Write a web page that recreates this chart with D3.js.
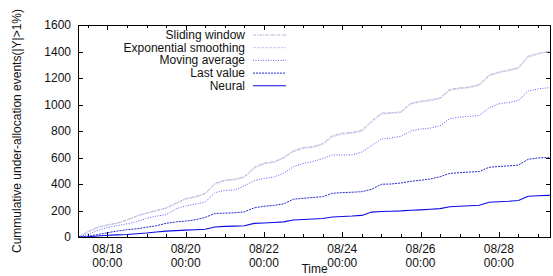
<!DOCTYPE html>
<html>
<head>
<meta charset="utf-8">
<script src="https://cdn.jsdelivr.net/npm/d3@7"></script>
<style>
  body { margin: 0; background: #fff; }
  text { font-family: "Liberation Sans", Arial, Helvetica, sans-serif; font-size: 12px; fill: #111; }
</style>
</head>
<body>
<div id="chart"></div>
<script>
// sample times, every 6 hours
const times = [
  "08/17 06:00", "08/17 12:00", "08/17 18:00",
  "08/18 00:00", "08/18 06:00", "08/18 12:00", "08/18 18:00",
  "08/19 00:00", "08/19 06:00", "08/19 12:00", "08/19 18:00",
  "08/20 00:00", "08/20 06:00", "08/20 12:00", "08/20 18:00",
  "08/21 00:00", "08/21 06:00", "08/21 12:00", "08/21 18:00",
  "08/22 00:00", "08/22 06:00", "08/22 12:00", "08/22 18:00",
  "08/23 00:00", "08/23 06:00", "08/23 12:00", "08/23 18:00",
  "08/24 00:00", "08/24 06:00", "08/24 12:00", "08/24 18:00",
  "08/25 00:00", "08/25 06:00", "08/25 12:00", "08/25 18:00",
  "08/26 00:00", "08/26 06:00", "08/26 12:00", "08/26 18:00",
  "08/27 00:00", "08/27 06:00", "08/27 12:00", "08/27 18:00",
  "08/28 00:00", "08/28 06:00", "08/28 12:00", "08/28 18:00",
  "08/29 00:00", "08/29 06:00", "08/29 08:00"
];

const slidingWindow = [
  0, 40, 75, 92, 105, 130, 160, 182, 200, 220, 255, 290, 305, 330, 405, 430,
  436, 455, 525, 558, 568, 600, 650, 675, 682, 705, 765, 784, 790, 805, 875,
  935, 938, 945, 1010, 1025, 1035, 1050, 1115, 1125, 1132, 1150, 1222, 1245,
  1260, 1278, 1365, 1385, 1400, 1405
];

const expSmoothing = [
  0, 36, 70, 88, 102, 126, 156, 178, 196, 216, 250, 285, 300, 325, 398, 425,
  431, 450, 518, 552, 562, 594, 642, 668, 676, 698, 755, 775, 783, 798, 866,
  928, 932, 940, 1003, 1019, 1029, 1045, 1108, 1119, 1127, 1145, 1215, 1240,
  1255, 1273, 1358, 1380, 1396, 1400
];

const movingAverage = [
  0, 20, 50, 72, 85, 100, 115, 140, 158, 168, 212, 235, 248, 264, 335, 352,
  355, 385, 425, 442, 452, 480, 530, 555, 570, 592, 619, 619, 620, 640, 690,
  740, 747, 760, 800, 815, 822, 840, 893, 905, 910, 918, 975, 1005, 1015,
  1030, 1100, 1118, 1126, 1128
];

const lastValue = [
  0, 5, 18, 32, 45, 55, 62, 73, 85, 103, 114, 120, 130, 148, 178, 180, 183,
  190, 220, 232, 238, 250, 285, 292, 298, 304, 330, 335, 338, 342, 360, 398,
  400, 408, 420, 428, 438, 455, 480, 485, 490, 494, 526, 532, 537, 543, 586,
  597, 599, 600
];

const neural = [
  0, 2, 8, 13, 16, 19, 24, 30, 38, 44, 48, 52, 55, 58, 76, 80, 82, 85, 103,
  106, 110, 114, 128, 132, 136, 140, 151, 155, 158, 163, 188, 192, 194, 197,
  202, 205, 209, 214, 228, 232, 236, 240, 262, 266, 270, 276, 308, 311, 314, 315
];

const yTicks = [0, 200, 400, 600, 800, 1000, 1200, 1400, 1600];
const xTickLabels = ["08/18 00:00", "08/20 00:00", "08/22 00:00", "08/24 00:00", "08/26 00:00", "08/28 00:00"];

const series = [
  { name: "Sliding window", values: slidingWindow, color: "#a8a8cc", dash: "3,1,1,1", width: 0.9 },
  { name: "Exponential smoothing", values: expSmoothing, color: "#c4c4ec", dash: "3,1", width: 0.9 },
  { name: "Moving average", values: movingAverage, color: "#4848ff", dash: "1,1.5", width: 0.9 },
  { name: "Last value", values: lastValue, color: "#1010c8", dash: "2,1", width: 0.9 },
  { name: "Neural", values: neural, color: "#0a0ae8", dash: null, width: 1.1 }
];

const width = 553, height = 276;
const margin = { top: 25, right: 2, bottom: 39, left: 78 };
const parse = d3.timeParse("%m/%d %H:%M");
const dates = times.map(parse);

const svg = d3.select("#chart").append("svg")
  .attr("width", width)
  .attr("height", height);

const x = d3.scaleTime()
  .domain([dates[0], dates[dates.length - 1]])
  .range([margin.left, width - margin.right]);

const y = d3.scaleLinear()
  .domain([0, 1600])
  .range([height - margin.bottom, margin.top]);

const plotL = margin.left, plotR = width - margin.right;
const plotT = margin.top, plotB = height - margin.bottom;

// minor x ticks every 12 hours
const minor = d3.timeHour.every(12).range(x.domain()[0], x.domain()[1]);
const major = xTickLabels.map(parse);

const tickG = svg.append("g").attr("stroke", "#000").attr("stroke-width", 1);
minor.forEach((d) => {
  const isMajor = major.some((m) => +m === +d);
  const len = isMajor ? 5 : 3;
  const px = Math.round(x(d)) + 0.5;
  tickG.append("line").attr("x1", px).attr("x2", px).attr("y1", plotB).attr("y2", plotB - len);
  tickG.append("line").attr("x1", px).attr("x2", px).attr("y1", plotT).attr("y2", plotT + len);
});
yTicks.forEach((v) => {
  const py = Math.round(y(v)) + 0.5;
  tickG.append("line").attr("x1", plotL).attr("x2", plotL + 5).attr("y1", py).attr("y2", py);
  tickG.append("line").attr("x1", plotR).attr("x2", plotR - 5).attr("y1", py).attr("y2", py);
});

// y tick labels
svg.append("g").selectAll("text")
  .data(yTicks)
  .enter()
  .append("text")
  .attr("x", plotL - 7)
  .attr("y", (d) => y(d) + 4)
  .attr("text-anchor", "end")
  .text((d) => d);

// x tick labels, two lines
const xl = svg.append("g").selectAll("text")
  .data(major)
  .enter()
  .append("text")
  .attr("text-anchor", "middle");
xl.append("tspan")
  .attr("x", (d) => x(d))
  .attr("y", plotB + 16)
  .text(d3.timeFormat("%m/%d"));
xl.append("tspan")
  .attr("x", (d) => x(d))
  .attr("y", plotB + 30)
  .text(d3.timeFormat("%H:%M"));

// axis titles
svg.append("text")
  .attr("x", (plotL + plotR) / 2)
  .attr("y", height - 3)
  .attr("text-anchor", "middle")
  .text("Time");

svg.append("text")
  .attr("transform", `translate(21,${(plotT + plotB) / 2}) rotate(-90)`)
  .attr("text-anchor", "middle")
  .text("Cummulative under-allocation events(|Y|>1%)");

// lines
const line = d3.line()
  .x((d, i) => x(dates[i]))
  .y((d) => y(d));

svg.append("g")
  .selectAll("path")
  .data(series)
  .enter()
  .append("path")
  .attr("d", (s) => line(s.values))
  .attr("fill", "none")
  .attr("stroke", (s) => s.color)
  .attr("stroke-width", (s) => s.width)
  .attr("stroke-dasharray", (s) => s.dash);

// frame
svg.append("rect")
  .attr("x", plotL + 0.5)
  .attr("y", plotT + 0.5)
  .attr("width", plotR - plotL - 1)
  .attr("height", plotB - plotT)
  .attr("fill", "none")
  .attr("stroke", "#000");

// legend
const legend = svg.append("g");
series.forEach((s, i) => {
  const ly = 35 + i * 12.7;
  legend.append("text")
    .attr("x", 245)
    .attr("y", ly + 4)
    .attr("text-anchor", "end")
    .text(s.name);
  legend.append("line")
    .attr("x1", 253)
    .attr("x2", 286)
    .attr("y1", ly)
    .attr("y2", ly)
    .attr("stroke", s.color)
    .attr("stroke-width", s.width)
    .attr("stroke-dasharray", s.dash);
});
</script>
</body>
</html>
